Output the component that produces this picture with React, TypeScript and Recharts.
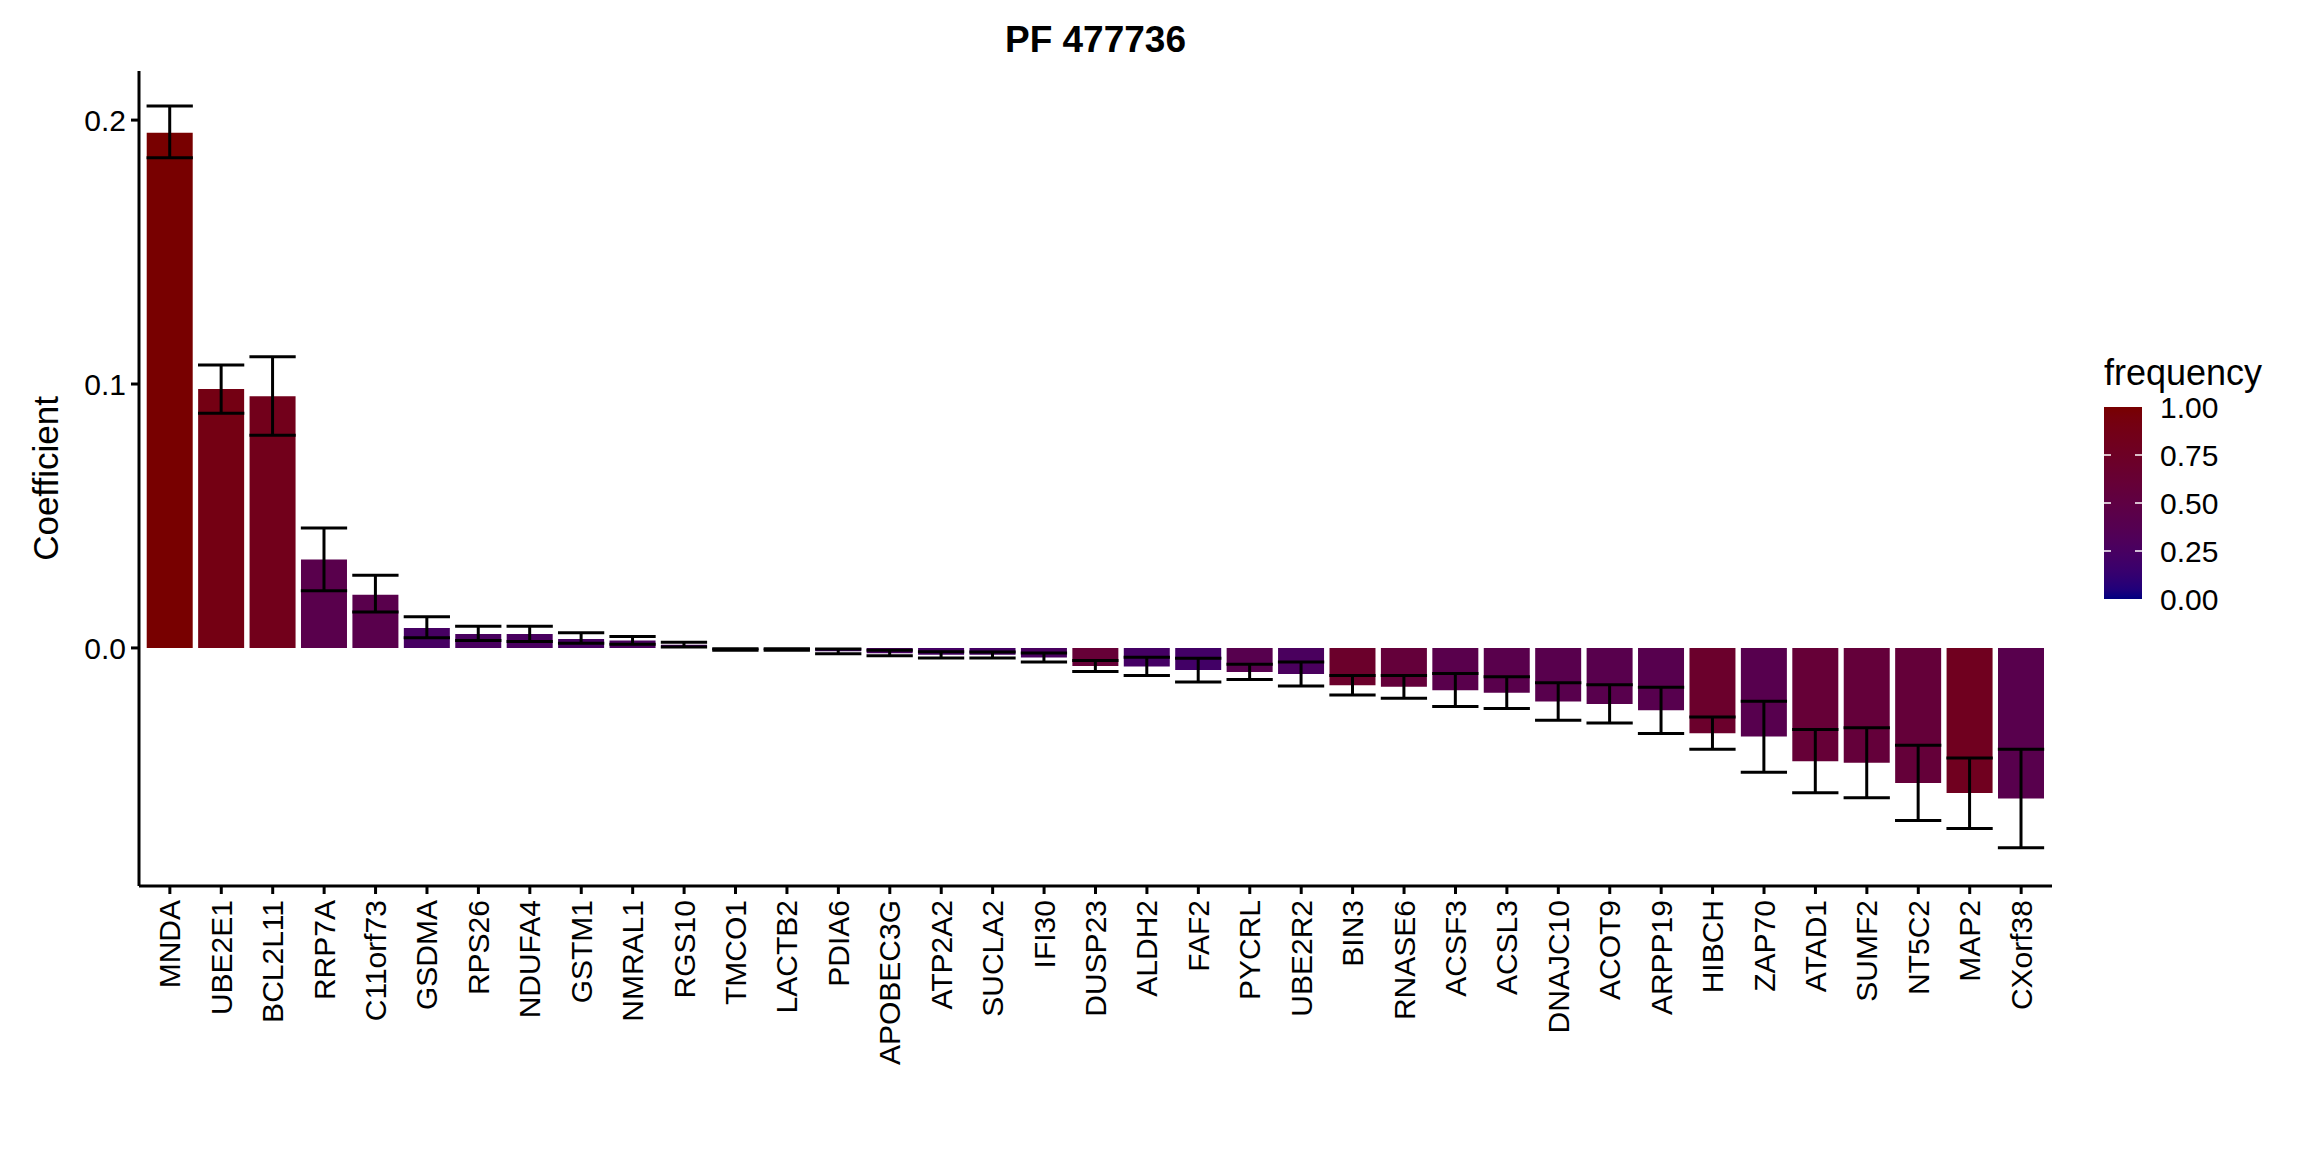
import React from 'react';
import { ComposedChart, Bar, Cell, ErrorBar, XAxis, YAxis } from 'recharts';

const genes = [
  'MNDA', 'UBE2E1', 'BCL2L11', 'RRP7A', 'C11orf73', 'GSDMA', 'RPS26', 'NDUFA4', 'GSTM1', 'NMRAL1',
  'RGS10', 'TMCO1', 'LACTB2', 'PDIA6', 'APOBEC3G', 'ATP2A2', 'SUCLA2', 'IFI30', 'DUSP23', 'ALDH2',
  'FAF2', 'PYCRL', 'UBE2R2', 'BIN3', 'RNASE6', 'ACSF3', 'ACSL3', 'DNAJC10', 'ACOT9', 'ARPP19',
  'HIBCH', 'ZAP70', 'ATAD1', 'SUMF2', 'NT5C2', 'MAP2', 'CXorf38',
];

const coefficient = [
  0.1952, 0.0981, 0.0954, 0.0335, 0.0202, 0.0076, 0.0053, 0.0053, 0.0034, 0.0028,
  0.0012, -0.0006, -0.0006, -0.0013, -0.002, -0.0026, -0.0026, -0.0036, -0.0068, -0.007,
  -0.0084, -0.0091, -0.0099, -0.0141, -0.0147, -0.016, -0.017, -0.0203, -0.0212, -0.0236,
  -0.0323, -0.0336, -0.0429, -0.0435, -0.0512, -0.055, -0.057,
];

const lower = [
  0.1857, 0.0889, 0.0806, 0.0217, 0.0136, 0.0039, 0.0028, 0.0024, 0.0018, 0.0014,
  0.0004, -0.0009, -0.0009, -0.0022, -0.003, -0.0038, -0.0038, -0.0053, -0.0089, -0.0104,
  -0.0129, -0.012, -0.0144, -0.0178, -0.0191, -0.0222, -0.0229, -0.0274, -0.0284, -0.0324,
  -0.0384, -0.0471, -0.0549, -0.0568, -0.0654, -0.0684, -0.0757,
];

const upper = [
  0.2053, 0.1072, 0.1103, 0.0454, 0.0275, 0.0118, 0.0082, 0.0082, 0.0058, 0.0043,
  0.0022, -0.0003, -0.0003, -0.0004, -0.0009, -0.0014, -0.0015, -0.0019, -0.0048, -0.0035,
  -0.0039, -0.0062, -0.0053, -0.0104, -0.0104, -0.0097, -0.0109, -0.0132, -0.0139, -0.0149,
  -0.0262, -0.0202, -0.0309, -0.0302, -0.0369, -0.0417, -0.0384,
];

const frequency = [
  1.0, 0.9, 0.84, 0.42, 0.42, 0.24, 0.26, 0.26, 0.24, 0.27,
  0.25, 0.25, 0.25, 0.2, 0.25, 0.22, 0.22, 0.26, 0.6, 0.22,
  0.21, 0.4, 0.27, 0.7, 0.57, 0.42, 0.42, 0.41, 0.41, 0.4,
  0.69, 0.4, 0.6, 0.57, 0.58, 0.8, 0.41,
];

const yTicks = [0, 0.1, 0.2];
const legendTicks = [0, 0.25, 0.5, 0.75, 1];

const LOW = '#000080';
const HIGH = '#780000';
const FONT = '"Liberation Sans", Arial, Helvetica, sans-serif';

// ---- Lab colour interpolation (like ggplot's gradient) ----
const toLin = (c: number) => (c <= 0.04045 ? c / 12.92 : Math.pow((c + 0.055) / 1.055, 2.4));
const fromLin = (c: number) => (c <= 0.0031308 ? 12.92 * c : 1.055 * Math.pow(c, 1 / 2.4) - 0.055);
const Xn = 0.95047, Yn = 1.0, Zn = 1.08883;
const f = (t: number) => (t > 216 / 24389 ? Math.cbrt(t) : (24389 / 27 * t + 16) / 116);
const finv = (t: number) => (t * t * t > 216 / 24389 ? t * t * t : (116 * t - 16) / (24389 / 27));

function hexToLab(hex: string) {
  const r = toLin(parseInt(hex.slice(1, 3), 16) / 255);
  const g = toLin(parseInt(hex.slice(3, 5), 16) / 255);
  const b = toLin(parseInt(hex.slice(5, 7), 16) / 255);
  const X = 0.4124 * r + 0.3576 * g + 0.1805 * b;
  const Y = 0.2126 * r + 0.7152 * g + 0.0722 * b;
  const Z = 0.0193 * r + 0.1192 * g + 0.9505 * b;
  const fx = f(X / Xn), fy = f(Y / Yn), fz = f(Z / Zn);
  return [116 * fy - 16, 500 * (fx - fy), 200 * (fy - fz)];
}

function labToHex([L, a, bb]: number[]) {
  const fy = (L + 16) / 116;
  const fx = fy + a / 500;
  const fz = fy - bb / 200;
  const X = Xn * finv(fx), Y = Yn * finv(fy), Z = Zn * finv(fz);
  const r = 3.2406 * X - 1.5372 * Y - 0.4986 * Z;
  const g = -0.9689 * X + 1.8758 * Y + 0.0415 * Z;
  const b = 0.0557 * X - 0.204 * Y + 1.057 * Z;
  const h = (c: number) => {
    const v = Math.round(Math.min(1, Math.max(0, fromLin(c))) * 255);
    return v.toString(16).padStart(2, '0');
  };
  return '#' + h(r) + h(g) + h(b);
}

const labLow = hexToLab(LOW);
const labHigh = hexToLab(HIGH);
const freqColor = (t: number) => labToHex(labLow.map((v, i) => v + (labHigh[i] - v) * t));

// ---- layout ----
const W = 2304;
const H = 1152;
const PLOT_LEFT = 139;
const PLOT_RIGHT = 2052;
const PLOT_TOP = 71;
const PLOT_BOTTOM = 886;
const YAXIS_W = 100;
const band = (PLOT_RIGHT - PLOT_LEFT) / (genes.length + 0.2);

const data = genes.map((name, i) => ({
  name,
  value: coefficient[i],
  freq: frequency[i],
  err: [coefficient[i] - lower[i], upper[i] - coefficient[i]],
}));

const XTick = (props: any) => {
  const { x, y, payload } = props;
  return (
    <text
      x={x}
      y={y}
      transform={`rotate(-90, ${x}, ${y})`}
      textAnchor="end"
      dy="0.35em"
      fontSize={30}
      fontFamily={FONT}
      fill="#000"
    >
      {payload.value}
    </text>
  );
};

const CB_X = 2104;
const CB_Y = 407;
const CB_W = 38;
const CB_H = 192;

const App: React.FC = () => {
  const stops = Array.from({ length: 21 }, (_, i) => i / 20);
  return (
    <div style={{ position: 'absolute', left: 0, top: 0, width: W, height: H, background: '#fff' }}>
      <ComposedChart
        width={W}
        height={H}
        data={data}
        barCategoryGap="5%"
        margin={{ top: PLOT_TOP, right: W - PLOT_RIGHT, bottom: 0, left: PLOT_LEFT - YAXIS_W }}
      >
        <XAxis
          dataKey="name"
          interval={0}
          height={H - PLOT_BOTTOM}
          padding={{ left: band * 0.1, right: band * 0.1 }}
          axisLine={{ stroke: '#000', strokeWidth: 3 }}
          tickLine={{ stroke: '#000', strokeWidth: 3 }}
          tickSize={8}
          tickMargin={6}
          tick={<XTick />}
        />
        <YAxis
          width={YAXIS_W}
          domain={[-0.0902, 0.2186]}
          allowDataOverflow
          ticks={yTicks}
          tickFormatter={(v: number) => v.toFixed(1)}
          axisLine={{ stroke: '#000', strokeWidth: 3 }}
          tickLine={{ stroke: '#000', strokeWidth: 3 }}
          tickSize={8}
          tickMargin={5}
          tick={{ fontSize: 30, fontFamily: FONT, fill: '#000' }}
        />
        <Bar dataKey="value" isAnimationActive={false}>
          {data.map((d) => (
            <Cell key={d.name} fill={freqColor(d.freq)} />
          ))}
          <ErrorBar
            dataKey="err"
            direction="y"
            width={band * 0.45}
            stroke="#000"
            strokeWidth={3}
            isAnimationActive={false}
          />
        </Bar>
      </ComposedChart>
      <svg
        width={W}
        height={H}
        style={{ position: 'absolute', left: 0, top: 0, pointerEvents: 'none' }}
        fontFamily={FONT}
      >
        <defs>
          <linearGradient id="cb" x1="0" y1="1" x2="0" y2="0">
            {stops.map((s) => (
              <stop key={s} offset={s} stopColor={freqColor(s)} />
            ))}
          </linearGradient>
        </defs>
        <text x={(PLOT_LEFT + PLOT_RIGHT) / 2} y={52} textAnchor="middle" fontSize={37} fontWeight="bold">
          PF 477736
        </text>
        <text
          x={58}
          y={(PLOT_TOP + PLOT_BOTTOM) / 2}
          transform={`rotate(-90, 58, ${(PLOT_TOP + PLOT_BOTTOM) / 2})`}
          textAnchor="middle"
          fontSize={35}
        >
          Coefficient
        </text>
        <text x={CB_X} y={385} fontSize={36}>
          frequency
        </text>
        <rect x={CB_X} y={CB_Y} width={CB_W} height={CB_H} fill="url(#cb)" />
        {legendTicks.map((t) => {
          const ty = CB_Y + CB_H - t * CB_H;
          return (
            <g key={t}>
              {t > 0 && t < 1 && (
                <>
                  <line x1={CB_X} x2={CB_X + 7} y1={ty} y2={ty} stroke="#fff" strokeWidth={1.5} />
                  <line x1={CB_X + CB_W - 7} x2={CB_X + CB_W} y1={ty} y2={ty} stroke="#fff" strokeWidth={1.5} />
                </>
              )}
              <text x={2160} y={ty} dy="0.36em" fontSize={30}>
                {t.toFixed(2)}
              </text>
            </g>
          );
        })}
      </svg>
    </div>
  );
};

export default App;
